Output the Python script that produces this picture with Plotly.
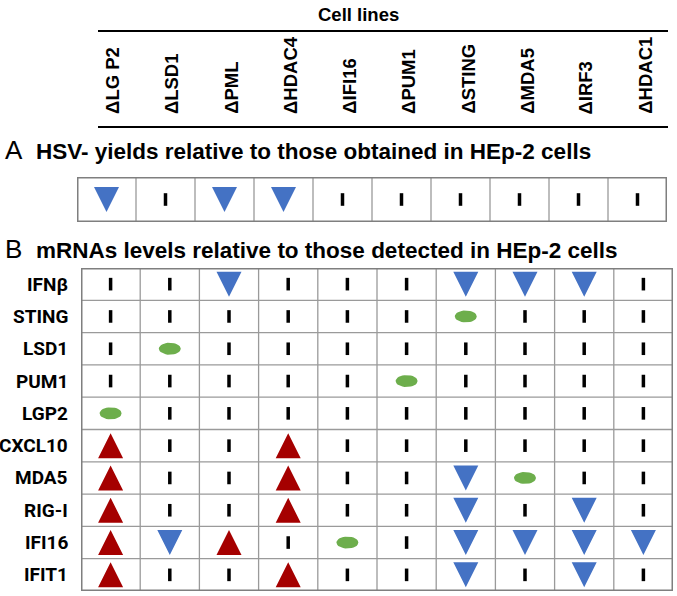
import math
import plotly.graph_objects as go

W, H = 677, 596

cell_lines = ["ΔLG P2", "ΔLSD1", "ΔPML", "ΔHDAC4", "ΔIFI16", "ΔPUM1", "ΔSTING", "ΔMDA5", "ΔIRF3", "ΔHDAC1"]
genes = ["IFNβ", "STING", "LSD1", "PUM1", "LGP2", "CXCL10", "MDA5", "RIG-I", "IFI16", "IFIT1"]
# D = decreased, U = increased, E = gene knocked out (ellipse), N = unchanged
hsv_yields = ["D", "N", "D", "D", "N", "N", "N", "N", "N", "N"]
mrna_IFNb   = ["N", "N", "D", "N", "N", "N", "D", "D", "D", "N"]
mrna_STING  = ["N", "N", "N", "N", "N", "N", "E", "N", "N", "N"]
mrna_LSD1   = ["N", "E", "N", "N", "N", "N", "N", "N", "N", "N"]
mrna_PUM1   = ["N", "N", "N", "N", "N", "E", "N", "N", "N", "N"]
mrna_LGP2   = ["E", "N", "N", "N", "N", "N", "N", "N", "N", "N"]
mrna_CXCL10 = ["U", "N", "N", "U", "N", "N", "N", "N", "N", "N"]
mrna_MDA5   = ["U", "N", "N", "U", "N", "N", "D", "E", "N", "N"]
mrna_RIGI   = ["U", "N", "N", "U", "N", "N", "D", "N", "D", "N"]
mrna_IFI16  = ["U", "D", "U", "N", "E", "N", "D", "D", "D", "D"]
mrna_IFIT1  = ["U", "N", "N", "U", "N", "N", "D", "N", "D", "N"]
mrna_rows = [mrna_IFNb, mrna_STING, mrna_LSD1, mrna_PUM1, mrna_LGP2,
             mrna_CXCL10, mrna_MDA5, mrna_RIGI, mrna_IFI16, mrna_IFIT1]

BLUE = "#4472C4"
RED = "#A50000"
GREEN = "#6DAE4C"
GRID = "#9A9A9A"
BORDER = "#7F7F7F"

def px(x):
    return x / W

def py(y):
    return 1 - y / H

# panel pixel geometry
A_box = (77, 177, 667, 222)
B_box = (81, 268, 673, 591)

fig = go.Figure()

def add_panel(rows, xa, ya, box, tri_px=25, ell=(22, 12)):
    x0, y0, x1, y1 = box
    ncol = len(cell_lines)
    nrow = len(rows)
    cw = (x1 - x0) / ncol
    rh = (y1 - y0) / nrow
    hw = tri_px / 2 / cw
    hh = tri_px / 2 / rh
    ex = ell[0] / 2 / cw
    ey = ell[1] / 2 / rh
    dx, dy, ux, uy, gx, gy, nx, ny = [], [], [], [], [], [], [], []
    for j, row in enumerate(rows):
        for i, v in enumerate(row):
            if v == "D":
                dx += [i - hw, i + hw, i, i - hw, None]
                dy += [j - hh, j - hh, j + hh, j - hh, None]
            elif v == "U":
                ux += [i - hw, i + hw, i, i - hw, None]
                uy += [j + hh, j + hh, j - hh, j + hh, None]
            elif v == "E":
                for k in range(33):
                    t = 2 * math.pi * k / 32
                    gx.append(i + ex * math.cos(t))
                    gy.append(j + ey * math.sin(t))
                gx.append(None)
                gy.append(None)
            else:
                nx.append(i)
                ny.append(j)
    common = dict(xaxis=xa, yaxis=ya, showlegend=False, hoverinfo="skip")
    fig.add_trace(go.Scatter(x=dx, y=dy, mode="lines", fill="toself", fillcolor=BLUE,
                             line=dict(width=0, color=BLUE), **common))
    fig.add_trace(go.Scatter(x=ux, y=uy, mode="lines", fill="toself", fillcolor=RED,
                             line=dict(width=0, color=RED), **common))
    fig.add_trace(go.Scatter(x=gx, y=gy, mode="lines", fill="toself", fillcolor=GREEN,
                             line=dict(width=0, color=GREEN), **common))
    fig.add_trace(go.Scatter(x=nx, y=ny, mode="markers",
                             marker=dict(symbol="line-ns", size=9, line=dict(width=3.5, color="black")),
                             **common))
    for k in range(1, ncol):
        fig.add_shape(type="line", xref=xa, yref=ya, x0=k - 0.5, x1=k - 0.5, y0=-0.5, y1=nrow - 0.5,
                      line=dict(color=GRID, width=1.3))
    for k in range(1, nrow):
        fig.add_shape(type="line", xref=xa, yref=ya, x0=-0.5, x1=ncol - 0.5, y0=k - 0.5, y1=k - 0.5,
                      line=dict(color=GRID, width=1.3))
    fig.add_shape(type="rect", xref=xa, yref=ya, x0=-0.5, x1=ncol - 0.5, y0=-0.5, y1=nrow - 0.5,
                  line=dict(color=BORDER, width=3))

add_panel([hsv_yields], "x", "y", A_box)
add_panel(mrna_rows, "x2", "y2", B_box)

ax_common = dict(showgrid=False, zeroline=False, showticklabels=False, ticks="", showline=False,
                 fixedrange=True)
fig.update_layout(
    width=W, height=H,
    margin=dict(l=0, r=0, t=0, b=0),
    paper_bgcolor="white", plot_bgcolor="white",
    xaxis=dict(domain=[px(A_box[0]), px(A_box[2])], range=[-0.5, 9.5], **ax_common),
    yaxis=dict(domain=[py(A_box[3]), py(A_box[1])], range=[0.5, -0.5], **ax_common),
    xaxis2=dict(domain=[px(B_box[0]), px(B_box[2])], range=[-0.5, 9.5], anchor="y2", **ax_common),
    yaxis2=dict(domain=[py(B_box[3]), py(B_box[1])], range=[9.5, -0.5], anchor="x2", **ax_common),
)

ann = []
BOLD = "Liberation Sans, Arial, sans-serif"
LABEL = "Roboto, Liberation Sans, sans-serif"
# header
ann.append(dict(text="<b>Cell lines</b>", x=px(358), y=py(14), xref="paper", yref="paper",
                xanchor="center", yanchor="middle", showarrow=False,
                font=dict(family=BOLD, size=18.5, color="black")))
for i, name in enumerate(cell_lines):
    ann.append(dict(text="<b>" + name + "</b>", x=i + 0.03, xref="x2", y=py(116), yref="paper",
                    textangle=-90, xanchor="center", yanchor="bottom", showarrow=False,
                    font=dict(family=BOLD, size=18.5, color="black")))
fig.add_shape(type="line", xref="paper", yref="paper", x0=px(98), x1=px(668), y0=py(31), y1=py(31),
              line=dict(color="black", width=2))
fig.add_shape(type="line", xref="paper", yref="paper", x0=px(98), x1=px(668), y0=py(127), y1=py(127),
              line=dict(color="black", width=2))

# section titles
ann.append(dict(text="A", x=px(3), y=py(150), xref="paper", yref="paper", xanchor="left",
                yanchor="middle", showarrow=False,
                font=dict(family="Liberation Sans", size=26, color="black")))
ann.append(dict(text="<b>HSV- yields relative to those obtained in HEp-2 cells</b>", x=px(34), y=py(151),
                xref="paper", yref="paper", xanchor="left", yanchor="middle", showarrow=False,
                font=dict(family=BOLD, size=22.5, color="black")))
ann.append(dict(text="B", x=px(3), y=py(249), xref="paper", yref="paper", xanchor="left",
                yanchor="middle", showarrow=False,
                font=dict(family="Liberation Sans", size=26, color="black")))
ann.append(dict(text="<b>mRNAs levels relative to those detected in HEp-2 cells</b>", x=px(34), y=py(250),
                xref="paper", yref="paper", xanchor="left", yanchor="middle", showarrow=False,
                font=dict(family=BOLD, size=22.5, color="black")))

# row labels
for j, g in enumerate(genes):
    ann.append(dict(text="<b>" + g + "</b>", x=px(70), xref="paper", y=j, yref="y2",
                    xanchor="right", yanchor="middle", showarrow=False,
                    font=dict(family=LABEL, size=19, color="black")))

fig.update_layout(annotations=ann)
fig.write_html("out.html", config={"displayModeBar": False},
               post_script="document.body.style.margin='0';document.body.style.overflow='hidden';")
